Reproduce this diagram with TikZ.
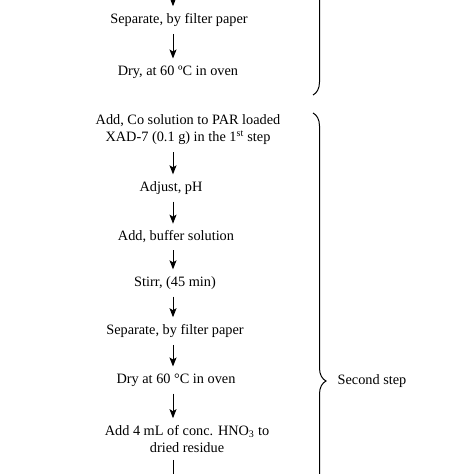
\documentclass[tikz,border=0pt]{standalone}
\usepackage{fontspec}
\setmainfont{Liberation Serif}
\usepackage{tikz}
\usetikzlibrary{arrows.meta,decorations.pathreplacing}

\begin{document}
\begin{tikzpicture}[
  x=1pt, y=-1pt,
  >={Stealth[length=9pt, width=7pt, inset=2pt]},
  every node/.style={inner sep=0pt, align=center, font=\fontsize{14.3}{17}\selectfont},
  every edge/.style={draw, ->, line width=1pt, shorten <=7pt, shorten >=7pt},
  stepbrace/.style={draw, line width=1pt, decorate, decoration={brace, amplitude=13pt}}
]
\useasboundingbox (0,0) rectangle (474,474);
\clip (0,0) rectangle (474,474);
\coordinate (axis) at (173,0);
\coordinate (in) at (173,-30);
\coordinate (out) at (173,510);
\node (sep1) at (179,20) {Separate, by filter paper};
\node (dry1) at (178,72) {Dry, at 60 ºC in oven};
\node (addco) at (188,130) {Add, Co solution to PAR loaded\\XAD-7 (0.1 g) in the 1\textsuperscript{st} step};
\node (adjph) at (171,188) {Adjust, pH};
\node (addbuf) at (176,237) {Add, buffer solution};
\node (stirr) at (175,283) {Stirr, (45 min)};
\node (sep2) at (175,331) {Separate, by filter paper};
\node (dry2) at (176,380) {Dry at 60 °C in oven};
\node (addhno) at (187,439) {Add 4 mL of conc. HNO\textsubscript{3} to\\dried residue};
\node (second) at (372,381) {Second step};
\path[->]
  (in) edge (sep1.north -| axis)
  (sep1.south -| axis) edge (dry1.north -| axis)
  (addco.south -| axis) edge (adjph.north -| axis)
  (adjph.south -| axis) edge (addbuf.north -| axis)
  (addbuf.south -| axis) edge (stirr.north -| axis)
  (stirr.south -| axis) edge (sep2.north -| axis)
  (sep2.south -| axis) edge (dry2.north -| axis)
  (dry2.south -| axis) edge (addhno.north -| axis)
  (addhno.south -| axis) edge (out);
% braces for the two steps
\draw[stepbrace] (313,-150) -- (313,95);
\draw[stepbrace] (313,113) -- (313,649);
\end{tikzpicture}
\end{document}
